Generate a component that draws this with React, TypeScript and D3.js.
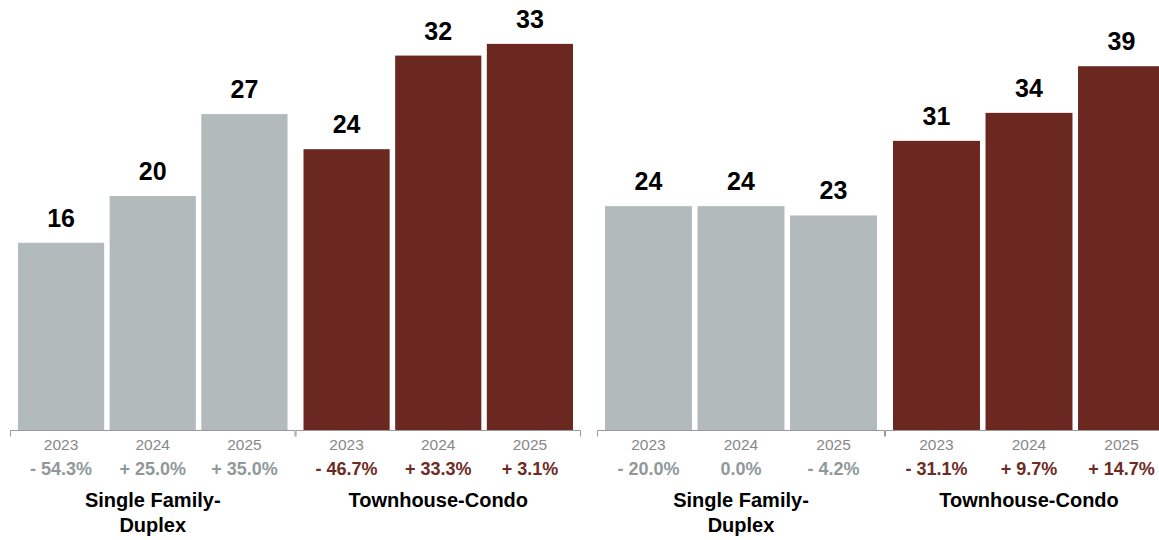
import React from "react";
import * as d3 from "d3";

const years = ["2023", "2024", "2025"];
const categories = ["Single Family-Duplex", "Townhouse-Condo"];

const leftSF = [16, 20, 27];
const leftTC = [24, 32, 33];
const rightSF = [24, 24, 23];
const rightTC = [31, 34, 39];

const leftSFChange = ["- 54.3%", "+ 25.0%", "+ 35.0%"];
const leftTCChange = ["- 46.7%", "+ 33.3%", "+ 3.1%"];
const rightSFChange = ["- 20.0%", "0.0%", "- 4.2%"];
const rightTCChange = ["- 31.1%", "+ 9.7%", "+ 14.7%"];

const categoryLines = [["Single Family-", "Duplex"], ["Townhouse-Condo"]];

const GRAY = "#b3babb";
const RED = "#6b2820";
const GRAY_TEXT = "#8f999a";
const RED_TEXT = "#6e2b23";
const FONT = "'Liberation Sans', Arial, Helvetica, sans-serif";

const W = 1159;
const H = 540;
const BASE = 430;

type PanelProps = {
  x0: number;
  x1: number;
  yMax: number;
  values: number[][];
  changes: string[][];
};

function Panel({ x0, x1, yMax, values, changes }: PanelProps) {
  const outer = d3.scaleBand<string>().domain(categories).range([x0, x1]).padding(0);
  const y = d3.scaleLinear().domain([0, yMax]).range([BASE, 0]);
  const colors = [GRAY, RED];
  const textColors = [GRAY_TEXT, RED_TEXT];
  return (
    <g>
      {categories.map((cat, ci) => {
        const g0 = outer(cat)!;
        const g1 = g0 + outer.bandwidth();
        const inner = d3
          .scaleBand<string>()
          .domain(years)
          .range([g0 + 8, g1 - 8])
          .paddingInner(0.06);
        const cx = (g0 + g1) / 2;
        return (
          <g key={cat}>
            {years.map((yr, i) => {
              const v = values[ci][i];
              const bx = inner(yr)!;
              const bw = inner.bandwidth();
              return (
                <g key={yr}>
                  <rect x={bx} y={y(v)} width={bw} height={BASE - y(v)} fill={colors[ci]} />
                  <text
                    x={bx + bw / 2}
                    y={y(v) - 16}
                    textAnchor="middle"
                    fontFamily={FONT}
                    fontWeight="bold"
                    fontSize={25}
                    fill="#000"
                  >
                    {v}
                  </text>
                  <text
                    x={bx + bw / 2}
                    y={450}
                    textAnchor="middle"
                    fontFamily={FONT}
                    fontSize={15.5}
                    fill="#888"
                  >
                    {yr}
                  </text>
                  <text
                    x={bx + bw / 2}
                    y={475}
                    textAnchor="middle"
                    fontFamily={FONT}
                    fontWeight="bold"
                    fontSize={18}
                    fill={textColors[ci]}
                  >
                    {changes[ci][i]}
                  </text>
                </g>
              );
            })}
            <path
              d={`M${g0 + 0.5},${BASE + 6.5}V${BASE + 0.5}H${g1 - 0.5}V${BASE + 6.5}`}
              fill="none"
              stroke="#999"
              strokeWidth={1}
            />
            {categoryLines[ci].map((ln, li) => (
              <text
                key={li}
                x={cx}
                y={507 + li * 25}
                textAnchor="middle"
                fontFamily={FONT}
                fontWeight="bold"
                fontSize={20}
                fill="#000"
              >
                {ln}
              </text>
            ))}
          </g>
        );
      })}
    </g>
  );
}

export default function App() {
  return (
    <div style={{ position: "absolute", left: 0, top: 0, width: W, height: H, overflow: "hidden", background: "#fff" }}>
      <svg width={W} height={H} style={{ display: "block" }}>
        <rect width={W} height={H} fill="#fff" />
        <Panel
          x0={10}
          x1={581}
          yMax={36.75}
          values={[leftSF, leftTC]}
          changes={[leftSFChange, leftTCChange]}
        />
        <Panel
          x0={597}
          x1={1173}
          yMax={46.1}
          values={[rightSF, rightTC]}
          changes={[rightSFChange, rightTCChange]}
        />
      </svg>
    </div>
  );
}
